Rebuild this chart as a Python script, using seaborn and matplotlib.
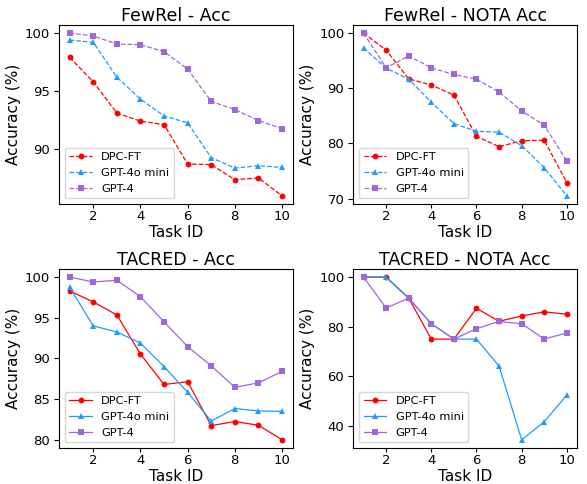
# Accuracy per task: FewRel / TACRED, Acc and NOTA Acc
import pandas as pd
import seaborn as sns
import matplotlib
matplotlib.use("Agg")
import matplotlib.pyplot as plt

task_ids = [1, 2, 3, 4, 5, 6, 7, 8, 9, 10]
models = ["DPC-FT", "GPT-4o mini", "GPT-4"]

# FewRel - Acc
fewrel_acc_dpc = [97.9, 95.8, 93.1, 92.4, 92.1, 88.7, 88.65, 87.35, 87.5, 85.95]
fewrel_acc_mini = [99.4, 99.2, 96.2, 94.3, 92.85, 92.25, 89.25, 88.35, 88.55, 88.4]
fewrel_acc_gpt4 = [100.0, 99.75, 99.05, 99.0, 98.4, 96.9, 94.1, 93.4, 92.45, 91.75]

# FewRel - NOTA Acc
fewrel_nota_dpc = [100.0, 96.9, 91.7, 90.6, 88.75, 81.3, 79.4, 80.5, 80.55, 72.9]
fewrel_nota_mini = [97.3, 93.65, 91.65, 87.45, 83.6, 82.2, 82.05, 79.6, 75.6, 70.5]
fewrel_nota_gpt4 = [100.0, 93.7, 95.85, 93.7, 92.5, 91.65, 89.3, 85.9, 83.3, 76.8]

# TACRED - Acc
tacred_acc_dpc = [98.3, 96.95, 95.35, 90.55, 86.8, 87.15, 81.75, 82.25, 81.8, 80.0]
tacred_acc_mini = [98.75, 94.0, 93.25, 91.9, 89.0, 85.85, 82.3, 83.85, 83.55, 83.5]
tacred_acc_gpt4 = [100.0, 99.4, 99.6, 97.6, 94.5, 91.45, 89.1, 86.45, 87.0, 88.4]

# TACRED - NOTA Acc
tacred_nota_dpc = [100.0, 100.0, 91.5, 75.0, 75.0, 87.4, 82.2, 84.3, 86.0, 85.0]
tacred_nota_mini = [100.0, 99.9, 91.5, 81.2, 75.0, 75.0, 64.1, 34.4, 41.7, 52.5]
tacred_nota_gpt4 = [100.0, 87.5, 91.5, 81.2, 75.0, 79.2, 82.1, 81.2, 75.0, 77.5]

panels = [
    ("FewRel - Acc", [fewrel_acc_dpc, fewrel_acc_mini, fewrel_acc_gpt4], "--", [90, 95, 100]),
    ("FewRel - NOTA Acc", [fewrel_nota_dpc, fewrel_nota_mini, fewrel_nota_gpt4], "--", [70, 80, 90, 100]),
    ("TACRED - Acc", [tacred_acc_dpc, tacred_acc_mini, tacred_acc_gpt4], "-", [80, 85, 90, 95, 100]),
    ("TACRED - NOTA Acc", [tacred_nota_dpc, tacred_nota_mini, tacred_nota_gpt4], "-", [40, 60, 80, 100]),
]

colors = ["#ff0000", "#1e9bff", "#a066e0"]
markers = ["o", "^", "s"]

# axes boxes in figure fraction (left, bottom, width, height)
boxes = [
    (0.1005, 0.5785, 0.398, 0.370),
    (0.602, 0.5785, 0.381, 0.370),
    (0.1005, 0.0744, 0.398, 0.370),
    (0.602, 0.0744, 0.381, 0.370),
]

fig = plt.figure(figsize=(5.87, 4.84), dpi=100)

for (title, series, ls, yticks), box in zip(panels, boxes):
    ax = fig.add_axes(box)
    for name, vals, c, m in zip(models, series, colors, markers):
        df = pd.DataFrame({"Task ID": task_ids, "Accuracy": vals})
        sns.lineplot(data=df, x="Task ID", y="Accuracy", ax=ax, color=c,
                     marker=m, markersize=4.2, markeredgewidth=0, linestyle=ls,
                     linewidth=0.9, label=name)
    ax.set_title(title, fontsize=12.5, pad=2.5)
    ax.set_xlabel("Task ID", fontsize=11, labelpad=1)
    ax.set_ylabel("Accuracy (%)", fontsize=11, labelpad=3)
    ax.set_xticks([2, 4, 6, 8, 10])
    ax.set_yticks(yticks)
    ax.tick_params(axis="x", labelsize=9.5, length=3, pad=1.5)
    ax.tick_params(axis="y", labelsize=9.5, length=3.5, pad=3)
    ax.legend(loc="lower left", fontsize=8.2)

fig.savefig("out.png", dpi=100)
